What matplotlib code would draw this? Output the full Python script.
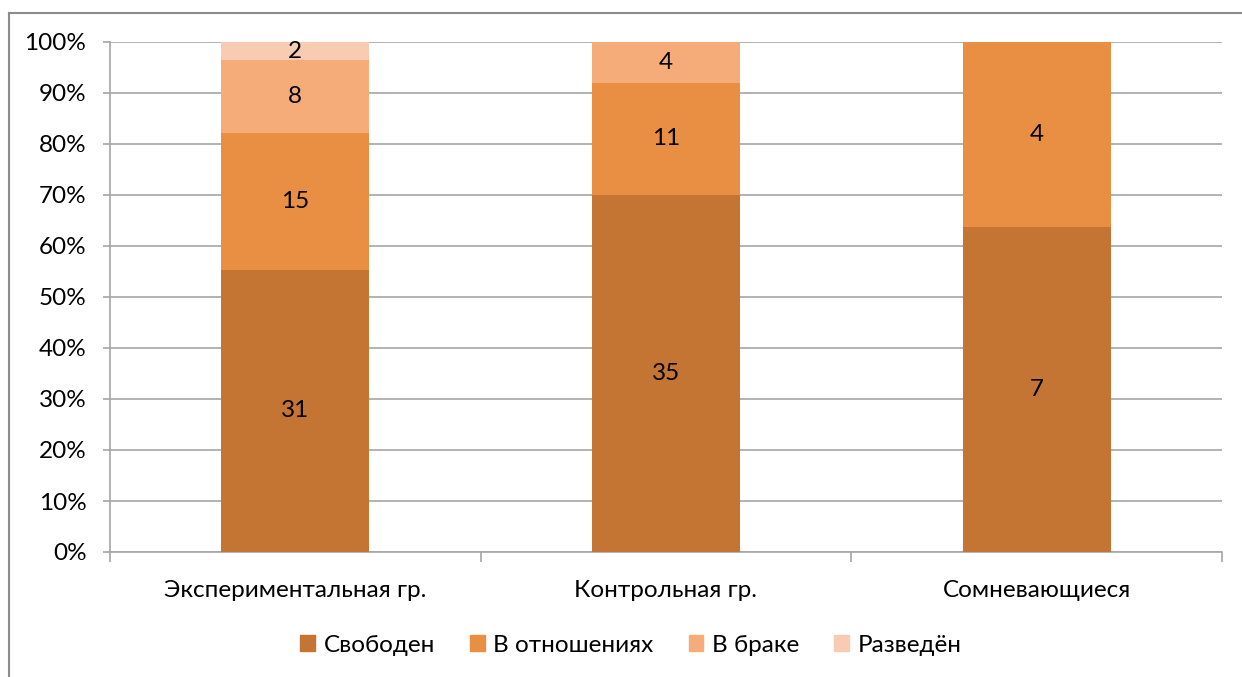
import numpy as np
import matplotlib.pyplot as plt
from matplotlib.patches import Patch
from matplotlib.lines import Line2D
from matplotlib.ticker import FuncFormatter

plt.rcParams['font.family'] = ['Lato', 'DejaVu Sans']

# группы и количество респондентов по семейному положению
groups = ["Экспериментальная гр.", "Контрольная гр.", "Сомневающиеся"]
statuses = ["Свободен", "В отношениях", "В браке", "Разведён"]
svoboden = [31, 35, 7]
v_otnosheniyah = [15, 11, 4]
v_brake = [8, 4, 0]
razveden = [2, 0, 0]
colors = ["#C47533", "#E98F43", "#F5AC79", "#F8CBB3"]

counts = np.array([svoboden, v_otnosheniyah, v_brake, razveden], dtype=float)
shares = counts / counts.sum(axis=0) * 100

FS = 17.5
W, H = 1242, 677
fig = plt.figure(figsize=(W / 100, H / 100), dpi=100)
ax = fig.add_axes([110 / W, 1 - 552 / H, (1222 - 110) / W, (552 - 42) / H])

x = np.arange(len(groups))
bottom = np.zeros(len(groups))
for i, name in enumerate(statuses):
    ax.bar(x, shares[i], 0.4, bottom=bottom, color=colors[i], label=name, zorder=3)
    for j in range(len(groups)):
        if counts[i, j] > 0:
            ax.text(x[j], bottom[j] + shares[i, j] / 2, f"{int(counts[i, j])}",
                    ha="center", va="center", fontsize=FS, color="black", zorder=4)
    bottom += shares[i]

grid_col = "#A6A6A6"
ax.set_xlim(-0.5, len(groups) - 0.5)
ax.set_ylim(0, 100)
ax.set_yticks(np.arange(0, 101, 10))
ax.yaxis.set_major_formatter(FuncFormatter(lambda v, p: f"{v:.0f}%"))
ax.yaxis.grid(True, color=grid_col, linewidth=1.2, zorder=0)
ax.set_xticks(x)
ax.set_xticklabels(groups)
ax.set_xticks(np.arange(-0.5, len(groups)), minor=True)
ax.tick_params(axis="x", which="major", length=0, pad=20, labelsize=FS)
ax.tick_params(axis="x", which="minor", length=7, color=grid_col, width=1.2)
ax.tick_params(axis="y", length=5, color=grid_col, width=1.2, labelsize=FS, pad=12)
for s in ["top", "right"]:
    ax.spines[s].set_visible(False)
for s in ["left", "bottom"]:
    ax.spines[s].set_color(grid_col)
    ax.spines[s].set_linewidth(1.2)

# рамка вокруг диаграммы
fig.add_artist(Line2D([9 / W, 1], [1 - 13 / H, 1 - 13 / H], color="#8C8C8C", lw=1.5))
fig.add_artist(Line2D([9 / W, 9 / W], [0, 1 - 13 / H], color="#8C8C8C", lw=1.5))

handles = [Patch(color=c) for c in colors]
fig.legend(handles, statuses, loc="center", bbox_to_anchor=(0.508, 1 - 645 / H), ncol=4,
           frameon=False, fontsize=FS, handlelength=0.6, handleheight=0.6,
           handletextpad=0.35, columnspacing=1.45)

fig.savefig("out.png", dpi=100)
